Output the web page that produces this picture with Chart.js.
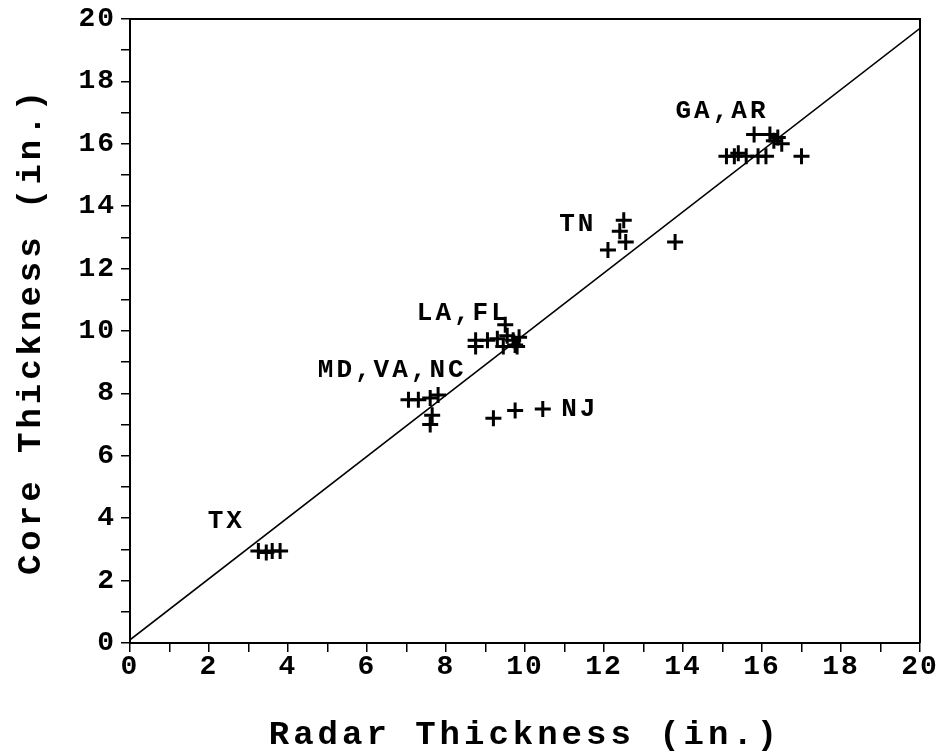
<!DOCTYPE html>
<html>
<head>
<meta charset="utf-8">
<script src="https://cdn.jsdelivr.net/npm/chart.js@4"></script>
<style>
  html, body { margin: 0; padding: 0; background: #fff; }
  #wrap { width: 940px; height: 752px; position: relative; }
</style>
</head>
<body>
<div id="wrap"><canvas id="c"></canvas></div>
<script>
// ---- Data ----
const xTickLabels = [0, 2, 4, 6, 8, 10, 12, 14, 16, 18, 20];
const yTickLabels = [0, 2, 4, 6, 8, 10, 12, 14, 16, 18, 20];

const radarGA = [15.1, 15.3, 15.4, 15.6, 15.9, 16.1, 15.8, 16.2, 16.4, 16.5, 16.3, 17.0];
const coreGA  = [15.6, 15.6, 15.7, 15.6, 15.6, 15.6, 16.3, 16.3, 16.2, 16.0, 16.1, 15.6];

const radarTN = [12.5, 12.4, 12.55, 12.1, 13.8];
const coreTN  = [13.55, 13.2, 12.85, 12.6, 12.85];

const radarLA = [8.75, 8.75, 9.05, 9.3, 9.5, 9.55, 9.45, 9.7, 9.8, 9.85, 9.75];
const coreLA  = [9.7, 9.5, 9.7, 9.75, 10.2, 9.85, 9.5, 9.7, 9.5, 9.8, 9.55];

const radarMD = [7.05, 7.3, 7.6, 7.8, 7.65, 7.6];
const coreMD  = [7.8, 7.8, 7.85, 7.95, 7.3, 7.0];

const radarNJ = [9.2, 9.75, 10.45];
const coreNJ  = [7.2, 7.45, 7.5];

const radarTX = [3.25, 3.45, 3.6, 3.8];
const coreTX  = [2.95, 2.9, 2.95, 2.95];

const lineRadar = [0, 20];
const lineCore  = [0.1, 19.7];

const groupNames  = ['GA,AR', 'TN', 'LA,FL', 'MD,VA,NC', 'NJ', 'TX'];
const groupRadar  = [radarGA, radarTN, radarLA, radarMD, radarNJ, radarTX];
const groupCore   = [coreGA, coreTN, coreLA, coreMD, coreNJ, coreTX];
// label anchors in data units (centre of text)
const labelRadar  = [14.95, 11.3, 8.4, 6.6, 11.35, 2.4];
const labelCore   = [17.05, 13.4, 10.55, 8.75, 7.5, 3.9];

// ---- Build datasets ----
const toPts = (xs, ys) => xs.map((x, i) => ({ x: x, y: ys[i] }));
const datasets = groupNames.map((name, g) => ({
  type: 'scatter',
  label: name,
  data: toPts(groupRadar[g], groupCore[g]),
  pointStyle: 'cross',
  pointRadius: 8,
  pointHoverRadius: 8,
  borderWidth: 3,
  borderColor: '#000',
  backgroundColor: '#000'
}));
datasets.unshift({
  type: 'line',
  label: 'Equality',
  data: toPts(lineRadar, lineCore),
  borderColor: '#000',
  borderWidth: 1.6,
  pointRadius: 0,
  fill: false
});

const MONO = '"Liberation Mono", "DejaVu Sans Mono", monospace';

const framePlugin = {
  id: 'frame',
  beforeDraw(chart) {
    chart.ctx.letterSpacing = '4px';
  },
  afterDatasetsDraw(chart) {
    const { ctx, chartArea: a, scales } = chart;
    ctx.save();
    ctx.strokeStyle = '#000';
    ctx.lineWidth = 2;
    ctx.beginPath();
    ctx.moveTo(a.left, a.top);
    ctx.lineTo(a.right, a.top);
    ctx.lineTo(a.right, a.bottom);
    ctx.stroke();
    // group labels
    ctx.letterSpacing = '3px';
    ctx.fillStyle = '#000';
    ctx.font = 'bold 26px ' + MONO;
    ctx.textAlign = 'center';
    ctx.textBaseline = 'middle';
    groupNames.forEach((name, i) => {
      ctx.fillText(name, scales.x.getPixelForValue(labelRadar[i]) + 1.5, scales.y.getPixelForValue(labelCore[i]));
    });
    ctx.restore();
    ctx.letterSpacing = '2px';
  }
};

new Chart(document.getElementById('c'), {
  data: { datasets: datasets },
  plugins: [framePlugin],
  options: {
    responsive: true,
    maintainAspectRatio: false,
    animation: false,
    layout: { padding: { top: 18, right: 20, left: 0, bottom: 0 } },
    plugins: { legend: { display: false }, tooltip: { enabled: false } },
    scales: {
      x: {
        type: 'linear', min: 0, max: 20,
        afterFit(s) { s.height = 109; },
        ticks: {
          z: 1,
          stepSize: 1,
          autoSkip: false,
          maxRotation: 0,
          color: '#000',
          padding: 1,
          font: { family: MONO, size: 28, weight: 'bold', lineHeight: 1 },
          callback: v => (xTickLabels.includes(v) ? String(v) : '')
        },
        grid: { drawOnChartArea: false, drawTicks: true, tickLength: 9, color: '#000', lineWidth: 1.5 },
        border: { display: true, color: '#000', width: 2 },
        title: {
          display: true,
          text: 'Radar Thickness (in.)',
          color: '#000',
          font: { family: MONO, size: 34, weight: 'bold', lineHeight: 1 },
          padding: { top: 0, bottom: 0 }
        }
      },
      y: {
        type: 'linear', min: 0, max: 20,
        afterFit(s) { s.width = 130; },
        ticks: {
          z: 1,
          stepSize: 1,
          autoSkip: false,
          color: '#000',
          padding: 5,
          font: { family: MONO, size: 28, weight: 'bold', lineHeight: 1 },
          callback: v => (yTickLabels.includes(v) ? String(v) : '')
        },
        grid: { drawOnChartArea: false, drawTicks: true, tickLength: 9, color: '#000', lineWidth: 1.5 },
        border: { display: true, color: '#000', width: 2 },
        title: {
          display: true,
          text: 'Core Thickness (in.)',
          color: '#000',
          font: { family: MONO, size: 34, weight: 'bold', lineHeight: 1 },
          padding: { top: 14, bottom: 0 }
        }
      }
    }
  }
});
</script>
</body>
</html>
